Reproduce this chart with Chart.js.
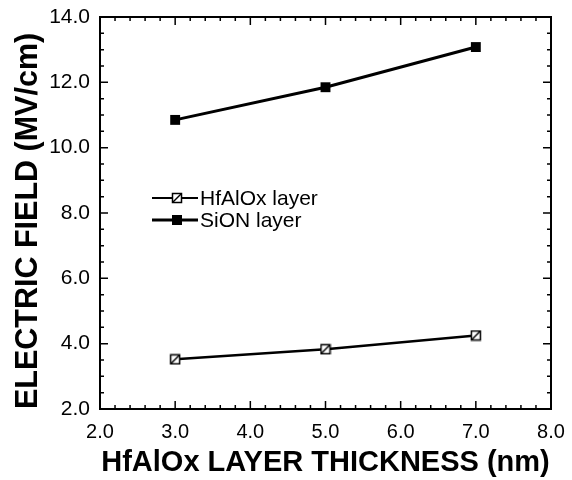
<!DOCTYPE html>
<html>
<head>
<meta charset="utf-8">
<script src="https://cdn.jsdelivr.net/npm/chart.js@4/dist/chart.umd.min.js"></script>
<style>
  html, body { margin: 0; padding: 0; background: #fff; }
  #wrap { width: 572px; height: 480px; }
</style>
</head>
<body>
<div id="wrap"><canvas id="myChart" width="572" height="480"></canvas></div>
<script>
"use strict";

// data
var thickness = [3.0, 5.0, 7.0];
var hfalox = [3.52, 3.83, 4.25];
var sion = [10.85, 11.85, 13.08];
var seriesNames = ["HfAlOx layer", "SiON layer"];
var xTicks = [2.0, 3.0, 4.0, 5.0, 6.0, 7.0, 8.0];
var yTicks = [2.0, 4.0, 6.0, 8.0, 10.0, 12.0, 14.0];

function pairs(xs, ys) {
  return xs.map(function (x, i) { return { x: x, y: ys[i] }; });
}

// open square with a slash, like the scanned marker
function slashSquare() {
  var c = document.createElement("canvas");
  c.width = 12;
  c.height = 12;
  var g = c.getContext("2d");
  g.fillStyle = "#fff";
  g.fillRect(1, 1, 10, 10);
  g.strokeStyle = "#000";
  g.lineWidth = 1.5;
  g.strokeRect(1.5, 1.5, 9, 9);
  g.beginPath();
  g.moveTo(2, 10);
  g.lineTo(10, 2);
  g.stroke();
  return c;
}
var openMarker = slashSquare();

// no extra room for edge labels, layout padding decides the plot box
function noEdgePadding(s) {
  s.paddingLeft = 0;
  s.paddingRight = 0;
  s.paddingTop = 0;
  s.paddingBottom = 0;
}

// frame + inward ticks on all four sides
var framePlugin = {
  id: "frame",
  afterDraw: function (chart) {
    var ctx = chart.ctx;
    var a = chart.chartArea;
    var xs = chart.scales.x;
    var ys = chart.scales.y;
    ctx.save();
    ctx.strokeStyle = "#000";
    ctx.lineWidth = 1.5;
    var i, v, p, len;
    ctx.beginPath();
    for (i = 0; i <= 30; i++) {
      v = 2 + i * 0.2;
      p = xs.getPixelForValue(v);
      len = i % 5 === 0 ? 8 : 4;
      ctx.moveTo(p, a.bottom);
      ctx.lineTo(p, a.bottom - len);
      ctx.moveTo(p, a.top);
      ctx.lineTo(p, a.top + len);
    }
    for (i = 0; i <= 24; i++) {
      v = 2 + i * 0.5;
      p = ys.getPixelForValue(v);
      len = i % 4 === 0 ? 8 : 4;
      ctx.moveTo(a.left, p);
      ctx.lineTo(a.left + len, p);
      ctx.moveTo(a.right, p);
      ctx.lineTo(a.right - len, p);
    }
    ctx.stroke();
    ctx.lineWidth = 2;
    ctx.strokeRect(a.left, a.top, a.right - a.left, a.bottom - a.top);
    ctx.restore();
  }
};

// legend drawn inside the plot, line through marker
var legendPlugin = {
  id: "innerLegend",
  afterDraw: function (chart) {
    var ctx = chart.ctx;
    var rows = [
      { name: seriesNames[0], y: 198, width: 2, marker: "open" },
      { name: seriesNames[1], y: 220, width: 3, marker: "filled" }
    ];
    ctx.save();
    ctx.font = "21px 'Liberation Sans', Arial, sans-serif";
    ctx.textBaseline = "middle";
    ctx.fillStyle = "#000";
    rows.forEach(function (r) {
      ctx.strokeStyle = "#000";
      ctx.lineWidth = r.width;
      ctx.beginPath();
      ctx.moveTo(152, r.y);
      ctx.lineTo(198, r.y);
      ctx.stroke();
      if (r.marker === "open") {
        ctx.drawImage(openMarker, 177 - 6, r.y - 6);
      } else {
        ctx.fillRect(177 - 5, r.y - 5, 10, 10);
      }
      ctx.fillText(r.name, 200, r.y + 1);
    });
    ctx.restore();
  }
};

new Chart(document.getElementById("myChart"), {
  type: "scatter",
  data: {
    datasets: [
      {
        label: seriesNames[0],
        data: pairs(thickness, hfalox),
        showLine: true,
        borderColor: "#000",
        borderWidth: 2.5,
        pointStyle: openMarker,
        pointBackgroundColor: "#fff",
        pointBorderColor: "#000"
      },
      {
        label: seriesNames[1],
        data: pairs(thickness, sion),
        showLine: true,
        borderColor: "#000",
        borderWidth: 3,
        pointStyle: "rect",
        pointRadius: 7,
        pointBackgroundColor: "#000",
        pointBorderColor: "#000",
        pointBorderWidth: 0
      }
    ]
  },
  options: {
    responsive: false,
    animation: false,
    events: [],
    layout: { padding: { top: 17, right: 21, left: 0, bottom: 0 } },
    plugins: {
      legend: { display: false },
      tooltip: { enabled: false }
    },
    scales: {
      x: {
        type: "linear",
        min: 2,
        max: 8,
        afterBuildTicks: function (s) {
          s.ticks = xTicks.map(function (v) { return { value: v }; });
        },
        afterFit: function (s) { s.height = 71; noEdgePadding(s); },
        grid: { display: false, drawTicks: false },
        border: { display: false },
        ticks: {
          padding: 11,
          color: "#000",
          maxRotation: 0,
          font: { family: "'Liberation Sans', Arial, sans-serif", size: 20 },
          callback: function (v) { return Number(v).toFixed(1); }
        },
        title: {
          display: true,
          text: "HfAlOx LAYER THICKNESS (nm)",
          color: "#000",
          padding: { top: 0, bottom: 3 },
          font: { family: "'Liberation Sans', Arial, sans-serif", size: 29, weight: "bold", lineHeight: 1 }
        }
      },
      y: {
        type: "linear",
        min: 2,
        max: 14,
        afterBuildTicks: function (s) {
          s.ticks = yTicks.map(function (v) { return { value: v }; });
        },
        afterFit: function (s) { s.width = 100; noEdgePadding(s); },
        grid: { display: false, drawTicks: false },
        border: { display: false },
        ticks: {
          padding: 10,
          color: "#000",
          font: { family: "'Liberation Sans', Arial, sans-serif", size: 21 },
          callback: function (v) { return Number(v).toFixed(1); }
        },
        title: {
          display: true,
          align: "start",
          text: "ELECTRIC FIELD (MV/cm)",
          color: "#000",
          padding: { top: 13, bottom: 0 },
          font: { family: "'Liberation Sans', Arial, sans-serif", size: 30.5, weight: "bold", lineHeight: 1 }
        }
      }
    }
  },
  plugins: [framePlugin, legendPlugin]
});
</script>
</body>
</html>
